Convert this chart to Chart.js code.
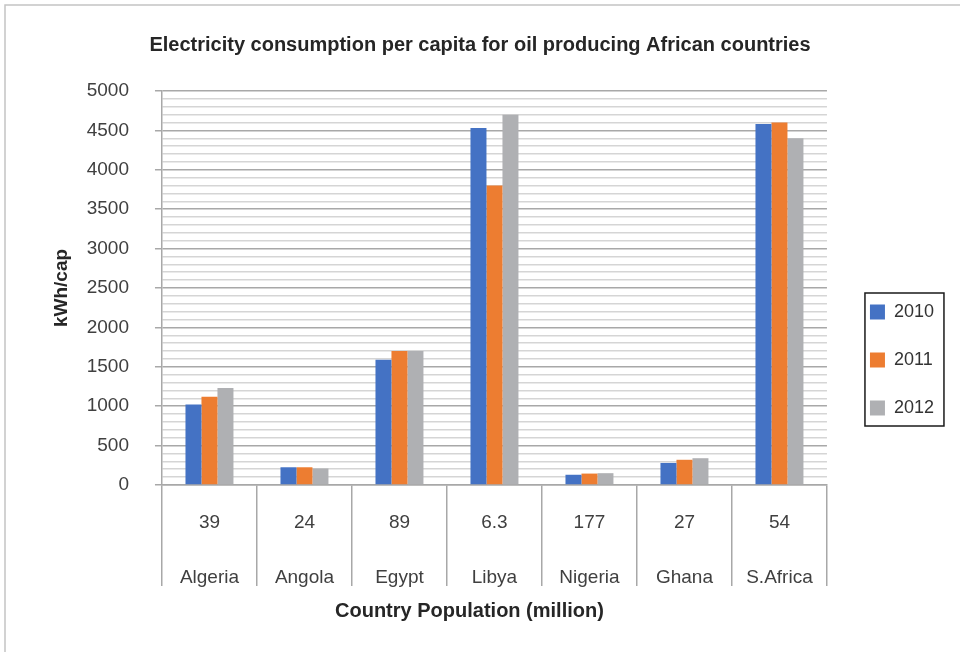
<!DOCTYPE html>
<html>
<head>
<meta charset="utf-8">
<script src="https://cdn.jsdelivr.net/npm/chart.js@4.4.1/dist/chart.umd.min.js"></script>
<style>
  html, body { margin: 0; padding: 0; background: #ffffff; overflow: hidden; }
  #wrap { width: 960px; height: 652px; position: relative; }
</style>
</head>
<body>
<div id="wrap"><canvas id="c" width="960" height="652"></canvas></div>
<script>
// ---- data ----
const countries = ['Algeria', 'Angola', 'Egypt', 'Libya', 'Nigeria', 'Ghana', 'S.Africa'];
const population = ['39', '24', '89', '6.3', '177', '27', '54'];
const seriesNames = ['2010', '2011', '2012'];
const values2010 = [1020, 225, 1590, 4530, 130, 280, 4580];
const values2011 = [1120, 225, 1700, 3800, 145, 320, 4600];
const values2012 = [1230, 210, 1700, 4700, 150, 340, 4400];
const seriesColors = ['#4472c4', '#ed7d31', '#afb0b3'];
const yMin = 0, yMax = 5000, yMinorStep = 100, yMajorStep = 500;

const chartTitle = 'Electricity consumption per capita for oil producing African countries';
const yTitle = 'kWh/cap';
const xTitle = 'Country Population (million)';

const FONT = "'Liberation Sans', Arial, Helvetica, sans-serif";
const labels = countries.map((c, i) => [population[i], c]);

const frame = {
  id: 'frame',
  beforeDraw(chart) {
    const ctx = chart.ctx;
    ctx.save();
    ctx.strokeStyle = '#c4c4c4';
    ctx.lineWidth = 1.5;
    ctx.beginPath();
    ctx.moveTo(5, chart.height);
    ctx.lineTo(5, 5);
    ctx.lineTo(chart.width, 5);
    ctx.stroke();
    ctx.restore();
  }
};

const legendBorder = {
  id: 'legendBorder',
  afterDraw(chart) {
    const lg = chart.legend;
    if (!lg || !lg.legendHitBoxes || !lg.legendHitBoxes.length) return;
    const hb = lg.legendHitBoxes;
    const first = hb[0], last = hb[hb.length - 1];
    const x0 = first.left - 5, y0 = first.top - 10;
    const x1 = first.left + 74, y1 = last.top + 27;
    const ctx = chart.ctx;
    ctx.save();
    ctx.strokeStyle = '#1a1a1a';
    ctx.lineWidth = 1.5;
    ctx.strokeRect(x0, y0, x1 - x0, y1 - y0);
    ctx.restore();
  }
};

const isMajor = (c) => c.tick && c.tick.value % yMajorStep === 0;

new Chart(document.getElementById('c'), {
  type: 'bar',
  data: {
    labels: labels,
    datasets: [
      { label: seriesNames[0], data: values2010, backgroundColor: seriesColors[0], borderWidth: 0 },
      { label: seriesNames[1], data: values2011, backgroundColor: seriesColors[1], borderWidth: 0 },
      { label: seriesNames[2], data: values2012, backgroundColor: seriesColors[2], borderWidth: 0 }
    ]
  },
  options: {
    responsive: false,
    animation: false,
    devicePixelRatio: 1,
    layout: { padding: { left: 16, right: 16, top: 0, bottom: 0 } },
    datasets: { bar: { categoryPercentage: 0.505, barPercentage: 1.0 } },
    plugins: {
      title: {
        display: true,
        text: chartTitle,
        color: '#262626',
        font: { family: FONT, size: 20, weight: 'bold', lineHeight: 1.2 },
        padding: { top: 33, bottom: 34 }
      },
      legend: {
        display: true,
        position: 'right',
        align: 'center',
        title: { display: true, text: '', font: { family: FONT, size: 10, lineHeight: '10px' }, padding: { top: 45, bottom: 0 } },
        labels: {
          color: '#333333',
          font: { family: FONT, size: 18, lineHeight: '5px' },
          boxWidth: 15,
          boxHeight: 15,
          padding: 43,
          generateLabels: (chart) => Chart.defaults.plugins.legend.labels.generateLabels(chart).map(l => Object.assign({}, l, { text: [l.text], lineWidth: 0 }))
        }
      },
      tooltip: { enabled: false }
    },
    scales: {
      x: {
        offset: true,
        grid: {
          display: true,
          offset: true,
          drawOnChartArea: false,
          drawTicks: true,
          tickLength: 101,
          color: '#a8a8a8',
          lineWidth: 1.5
        },
        border: { display: true, color: '#a8a8a8', width: 1.5 },
        ticks: {
          color: '#404040',
          font: { family: FONT, size: 19, lineHeight: '55px' },
          padding: -91,
          maxRotation: 0,
          minRotation: 0,
          autoSkip: false
        },
        title: {
          display: true,
          text: xTitle + '         ',
          color: '#262626',
          font: { family: FONT, size: 20, weight: 'bold', lineHeight: 1.2 },
          padding: { top: 85, bottom: 29 }
        }
      },
      y: {
        min: yMin,
        max: yMax,
        grid: {
          display: true,
          drawOnChartArea: true,
          drawTicks: true,
          tickLength: 7,
          color: (c) => isMajor(c) ? '#a8a8a8' : '#d5d5d5',
          tickColor: (c) => isMajor(c) ? '#a8a8a8' : 'rgba(0,0,0,0)',
          lineWidth: 1.5
        },
        border: { display: true, color: '#a8a8a8', width: 1.5 },
        ticks: {
          stepSize: yMinorStep,
          autoSkip: false,
          color: '#404040',
          font: { family: FONT, size: 19 },
          padding: 26,
          callback: (v) => (v % yMajorStep === 0 ? String(v) : '')
        },
        title: {
          display: true,
          text: yTitle,
          color: '#262626',
          font: { family: FONT, size: 19, weight: 'bold', lineHeight: 1.2 },
          padding: { top: 34.6, bottom: -12.7 }
        }
      }
    }
  },
  plugins: [frame, legendBorder]
});
</script>
</body>
</html>
